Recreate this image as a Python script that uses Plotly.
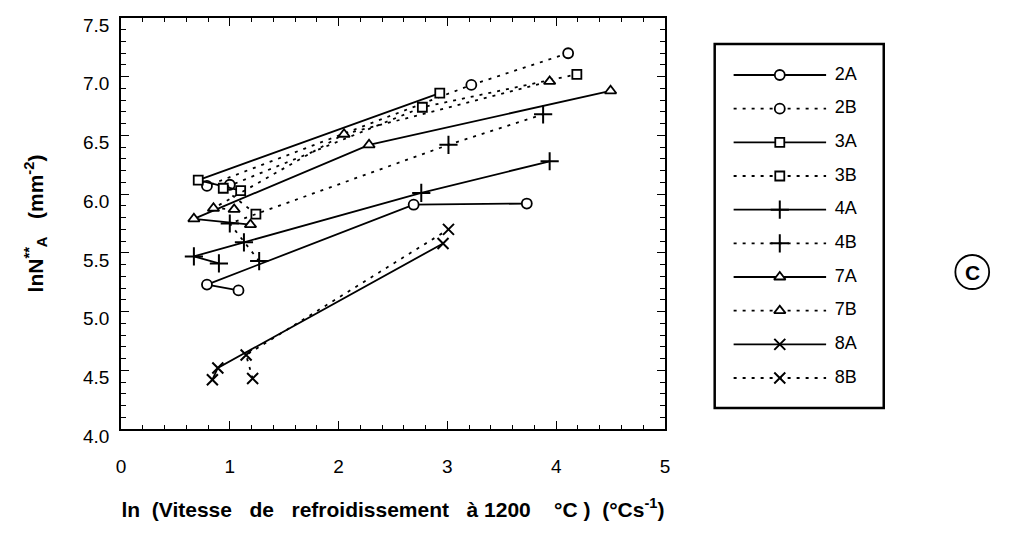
import plotly.graph_objects as go

# ln(cooling rate) vs ln(NA**) for each sample, A = solid, B = dotted
series = ["2A", "2B", "3A", "3B", "4A", "4B", "7A", "7B", "8A", "8B"]

x_2A = [1.08, 0.79, 2.69, 3.73]
y_2A = [5.18, 5.23, 5.91, 5.92]
x_2B = [1.00, 0.79, 3.22, 4.11]
y_2B = [6.08, 6.07, 6.93, 7.20]
x_3A = [1.10, 0.71, 2.93]
y_3A = [6.03, 6.12, 6.86]
x_3B = [1.24, 0.94, 2.77, 4.19]
y_3B = [5.83, 6.05, 6.74, 7.02]
x_4A = [0.90, 0.67, 1.13, 2.76, 3.94]
y_4A = [5.41, 5.47, 5.59, 6.01, 6.28]
x_4B = [1.27, 1.00, 3.01, 3.88]
y_4B = [5.43, 5.75, 6.42, 6.68]
x_7A = [1.19, 0.67, 2.28, 4.50]
y_7A = [5.74, 5.79, 6.42, 6.88]
x_7B = [1.04, 0.85, 2.05, 3.94]
y_7B = [5.87, 5.88, 6.51, 6.96]
x_8A = [0.84, 0.89, 2.96]
y_8A = [4.42, 4.52, 5.58]
x_8B = [1.21, 1.15, 3.01]
y_8B = [4.43, 4.63, 5.70]

xs = [x_2A, x_2B, x_3A, x_3B, x_4A, x_4B, x_7A, x_7B, x_8A, x_8B]
ys = [y_2A, y_2B, y_3A, y_3B, y_4A, y_4B, y_7A, y_7B, y_8A, y_8B]

x_ticks = [0, 1, 2, 3, 4, 5]
y_ticks = [4.0, 4.5, 5.0, 5.5, 6.0, 6.5, 7.0, 7.5]

FONT = "Liberation Sans, Arial, Helvetica, sans-serif"
DOT = "3px,6px"

symbols = {"2": "circle", "3": "square", "4": "cross-thin", "7": "triangle-up", "8": "x-thin"}
sizes = {"2": 10, "3": 9, "4": 13, "7": 10, "8": 11}


def marker_style(name):
    key = name[0]
    sym = symbols[key]
    if sym.endswith("-thin"):
        return dict(symbol=sym + "-open", size=sizes[key], color="black",
                    line=dict(color="black", width=2.0))
    return dict(symbol=sym, size=sizes[key], color="white",
                line=dict(color="black", width=1.8))


def line_style(name):
    return dict(color="black", width=1.8, dash="solid" if name.endswith("A") else DOT)


fig = go.Figure()

for name, xv, yv in zip(series, xs, ys):
    fig.add_trace(go.Scatter(x=xv, y=yv, mode="lines+markers", name=name,
                             line=line_style(name), marker=marker_style(name),
                             showlegend=False, xaxis="x", yaxis="y"))

# key panel drawn on its own pair of axes
for i, name in enumerate(series):
    fig.add_trace(go.Scatter(x=[0.112, 0.659], y=[-i, -i], mode="lines",
                             line=line_style(name), showlegend=False,
                             xaxis="x2", yaxis="y2", hoverinfo="skip"))
    fig.add_trace(go.Scatter(x=[0.385], y=[-i], mode="markers",
                             marker=marker_style(name), showlegend=False,
                             xaxis="x2", yaxis="y2", hoverinfo="skip"))
fig.add_trace(go.Scatter(x=[0.71] * len(series), y=[-i for i in range(len(series))],
                         text=series, mode="text", textposition="middle right",
                         textfont=dict(family=FONT, size=18, color="black"),
                         showlegend=False, xaxis="x2", yaxis="y2", hoverinfo="skip"))

W, H = 1024, 533
L, R, T, B = 121, 0, 18, 104
pw = W - L - R
ph = H - T - B
main_right = (668 - L) / pw

fig.update_layout(
    width=W, height=H,
    margin=dict(l=L, r=R, t=T, b=B),
    paper_bgcolor="white", plot_bgcolor="white",
    font=dict(family=FONT, color="black"),
    xaxis=dict(domain=[0, main_right], range=[0, 5], tickvals=x_ticks,
               ticktext=[str(v) for v in x_ticks],
               showgrid=False, zeroline=False, showline=True, linecolor="black",
               linewidth=1.6, mirror="ticks", ticks="inside", ticklen=8, tickwidth=1.2,
               tickcolor="black",
               minor=dict(ticks="inside", dtick=0.2, ticklen=4, tickcolor="black", tickwidth=1),
               tickfont=dict(size=19), ticklabelstandoff=19,
               title=dict(text="<b>ln  (Vitesse   de   refroidissement   à 1200    °C )  (°Cs<sup>-1</sup>)</b>",
                          font=dict(size=21), standoff=27)),
    yaxis=dict(domain=[0, 1], range=[4, 7.5], tickvals=y_ticks,
               ticktext=[f"{v:.1f}" for v in y_ticks],
               showgrid=False, zeroline=False, showline=True, linecolor="black",
               linewidth=1.6, mirror="ticks", ticks="inside", ticklen=8, tickwidth=1.2,
               tickcolor="black",
               minor=dict(ticks="inside", dtick=0.1, ticklen=5, tickcolor="black", tickwidth=1),
               tickfont=dict(size=19), ticklabelstandoff=6, ticklabelshift=7,
               title=dict(text="<b>lnN<sup>**</sup><sub>A</sub>   (mm<sup>-2</sup>)</b>",
                          font=dict(size=21), standoff=34)),
    xaxis2=dict(domain=[(718 - L) / pw, (888 - L) / pw], range=[0, 1], visible=False,
                anchor="y2"),
    yaxis2=dict(domain=[(H - B - 408) / ph, (H - B - 44) / ph], range=[-9.891, 0.921],
                visible=False, anchor="x2"),
    shapes=[
        dict(type="rect", xref="x2 domain", yref="y2 domain", x0=0, x1=1, y0=0, y1=1,
             line=dict(color="black", width=2.5)),
        dict(type="circle", xref="paper", yref="paper",
             x0=(977 - 17 - L) / pw, x1=(977 + 17 - L) / pw,
             y0=(H - B - 272 - 17) / ph, y1=(H - B - 272 + 17) / ph,
             line=dict(color="black", width=1.8)),
    ],
    annotations=[
        dict(text="<b>C</b>", xref="paper", yref="paper", x=(977 - L) / pw,
             y=(H - B - 272) / ph, showarrow=False, font=dict(size=21, color="black"),
             xanchor="center", yanchor="middle"),
    ],
)

fig.write_html("out.html")
